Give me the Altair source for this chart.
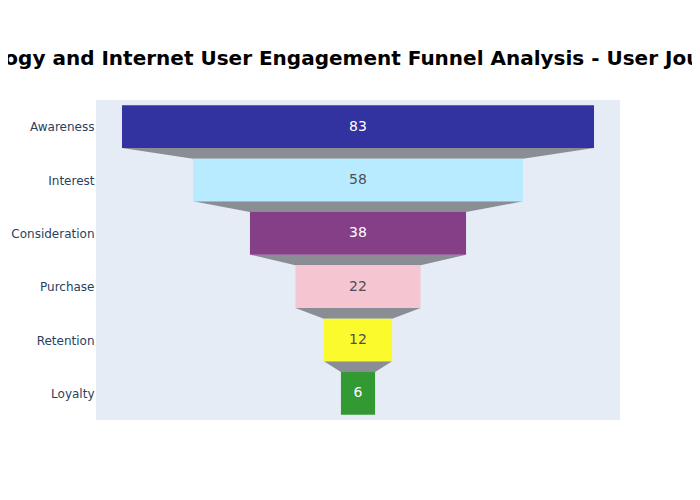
import altair as alt
import pandas as pd

stages = ["Awareness", "Interest", "Consideration", "Purchase", "Retention", "Loyalty"]
values = [83, 58, 38, 22, 12, 6]
colors = ["#3232a0", "#b8ebff", "#853f87", "#f5c5d2", "#fafa2d", "#339933"]
text_colors = ["#ffffff", "#505050", "#ffffff", "#505050", "#505050", "#ffffff"]

bars = pd.DataFrame({
    "stage": stages,
    "idx": list(range(len(stages))),
    "value": values,
    "tcol": text_colors,
})
bars["x0"] = -bars["value"] / 2
bars["x1"] = bars["value"] / 2
bars["y0"] = bars["idx"] - 0.4
bars["y1"] = bars["idx"] + 0.4
bars["zero"] = 0.0

conn_rows = []
for i in range(len(stages) - 1):
    a = values[i] / 2
    b = values[i + 1] / 2
    top = i + 0.4
    bot = i + 0.6
    conn_rows.append({"c": i, "x": -a, "ya": top, "yb": top})
    conn_rows.append({"c": i, "x": -b, "ya": top, "yb": bot})
    conn_rows.append({"c": i, "x": b, "ya": top, "yb": bot})
    conn_rows.append({"c": i, "x": a, "ya": top, "yb": top})
conns = pd.DataFrame(conn_rows)

half = 46.07
xs = alt.Scale(domain=[-half, half], nice=False, zero=False)
ys = alt.Scale(domain=[-0.5, 5.5], reverse=True, nice=False, zero=False)

label_expr = ""
for i, s in enumerate(stages[:-1]):
    label_expr += f"datum.value == {i} ? '{s}' : "
label_expr += f"'{stages[-1]}'"

yaxis = alt.Axis(
    title=None, tickCount=6, labelExpr=label_expr, ticks=False,
    domain=False, grid=False, labelFont="DejaVu Sans", labelFontSize=12,
    labelColor="#2a3f5f", labelPadding=2)

conn_layers = []
for i in range(len(stages) - 1):
    conn_layers.append(
        alt.Chart(conns).transform_filter(f"datum.c == {i}").mark_area(
            color="#8a8d94", opacity=1, interpolate="linear").encode(
            x=alt.X("x:Q", scale=xs, axis=None),
            y=alt.Y("ya:Q", scale=ys, axis=yaxis),
            y2="yb:Q",
        )
    )

rects = alt.Chart(bars).mark_rect().encode(
    x=alt.X("x0:Q", scale=xs, axis=None),
    x2="x1:Q",
    y=alt.Y("y0:Q", scale=ys, axis=yaxis),
    y2="y1:Q",
    color=alt.Color("stage:N", scale=alt.Scale(domain=stages, range=colors), legend=None),
)

texts = alt.Chart(bars).mark_text(font="DejaVu Sans", fontSize=14).encode(
    x=alt.X("zero:Q", scale=xs, axis=None),
    y=alt.Y("idx:Q", scale=ys, axis=yaxis),
    text="value:Q",
    fill=alt.Fill("tcol:N", scale=None, legend=None),
)

chart = alt.layer(*conn_layers, rects, texts).properties(
    width=524,
    height=320,
    autosize=alt.AutoSizeParams(type="none"),
    padding={"left": 88, "top": 92, "right": 72, "bottom": 60},
    title=alt.TitleParams(
        "Technology and Internet User Engagement Funnel Analysis - User Journey",
        font="DejaVu Sans", fontSize=20, fontWeight="bold", color="#000000",
        anchor="middle", offset=31, dx=-23,
    ),
).configure_view(fill="#e5ecf6", strokeWidth=0)

chart.save("out.html", embed_options={"renderer": "svg", "actions": False})
